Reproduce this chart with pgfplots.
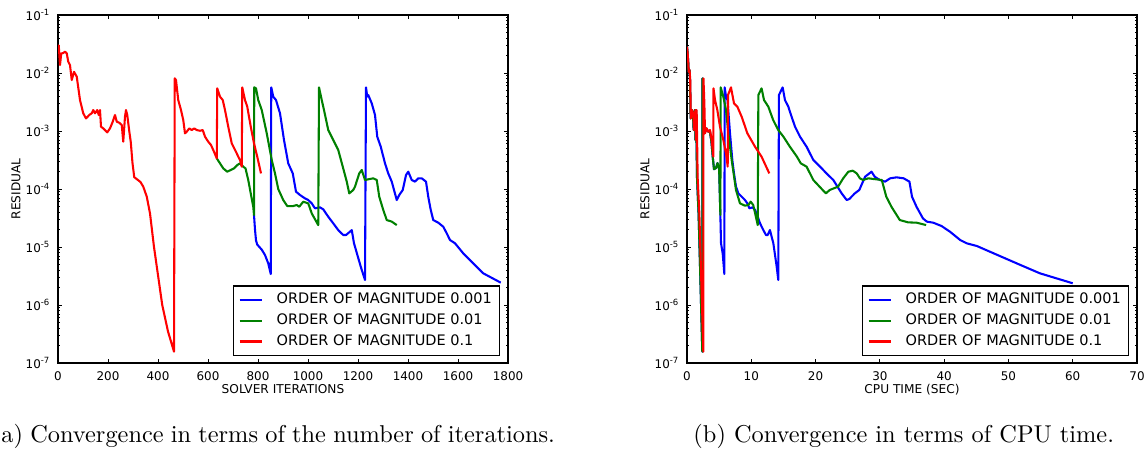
\documentclass[border=0pt]{standalone}
\usepackage{fontspec}
\setsansfont{DejaVu Sans}
\usepackage{pgfplots}
\pgfplotsset{compat=1.18}
\definecolor{mplblue}{rgb}{0,0,1}
\definecolor{mplgreen}{rgb}{0,0.5,0}
\definecolor{mplred}{rgb}{1,0,0}
\newcommand{\tenexp}[1]{10\raisebox{0.42em}{\fontsize{3.5}{4}\selectfont #1}}
\def\uu{0.4107pt}
\pgfplotsset{
  mplstyle/.style={
    scale only axis, width=184.82pt, height=142.92pt,
    ymin=1e-7, ymax=1e-1,
    ytick={1e-7,1e-6,1e-5,1e-4,1e-3,1e-2,1e-1},
    yticklabels={\tenexp{-7},\tenexp{-6},\tenexp{-5},\tenexp{-4},\tenexp{-3},\tenexp{-2},\tenexp{-1}},
    minor ytick={2e-7,3e-7,4e-7,5e-7,6e-7,7e-7,8e-7,9e-7,
                 2e-6,3e-6,4e-6,5e-6,6e-6,7e-6,8e-6,9e-6,
                 2e-5,3e-5,4e-5,5e-5,6e-5,7e-5,8e-5,9e-5,
                 2e-4,3e-4,4e-4,5e-4,6e-4,7e-4,8e-4,9e-4,
                 2e-3,3e-3,4e-3,5e-3,6e-3,7e-3,8e-3,9e-3,
                 2e-2,3e-2,4e-2,5e-2,6e-2,7e-2,8e-2,9e-2},
    tick label style={font=\sffamily\fontsize{4.9}{5.5}\selectfont},
    major tick length=1.6pt, minor tick length=0.85pt,
    every tick/.style={black, line width=0.4pt},
    axis line style={black, line width=0.45pt},
    legend cell align=left,
    legend style={at={(axis description cs:0.982,0.02)}, anchor=south east,
      draw=black, line width=0.45pt, font=\sffamily\fontsize{5.95}{7}\selectfont,
      inner xsep=2.1pt, inner ysep=1.8pt, row sep=0.6pt, column sep=4.8pt,
      nodes={inner sep=1pt}},
    legend image code/.code={\draw[#1, line width=0.85pt] (0pt,0pt) -- (9pt,0pt);},
    every axis plot/.append style={line width=0.85pt, line join=round, mark=none},
    every axis y label/.style={at={(axis description cs:-0.0933,0.5)}, rotate=90, anchor=center,
      font=\sffamily\fontsize{5}{6}\selectfont},
    every axis x label/.style={at={(axis description cs:0.5,-0.076)}, anchor=center,
      font=\sffamily\fontsize{5}{6}\selectfont},
  }
}
\begin{document}
\begin{tikzpicture}
\useasboundingbox (0,0) rectangle (1146*\uu,-450*\uu);
\clip (0,0) rectangle (1146*\uu,-450*\uu);

\begin{axis}[ymode=log, mplstyle, at={(58*\uu,-363*\uu)}, anchor=south west,
  xmin=0, xmax=1800, xtick={0,200,400,600,800,1000,1200,1400,1600,1800},
  xticklabels={0,200,400,600,800,1000,1200,1400,1600,1800},
  xlabel={SOLVER ITERATIONS}, ylabel={RESIDUAL}]
\addplot[mplblue] coordinates {
(784,3.56e-5) (788,2.0e-5) (792,1.3e-5) (797,1.1e-5) (815,9.0e-6) (828,7.28e-6) (841,5.22e-6) (851,3.42e-6)
(853,5.66e-3) (861,3.91e-3) (872,3.42e-3) (888,2.02e-3) (904,7.0e-4) (921,2.77e-4) (939,1.86e-4) (952,9.0e-5)
(968,7.89e-5) (988,6.9e-5) (1001,6.46e-5) (1015,5.66e-5) (1028,4.65e-5) (1048,4.83e-5) (1061,4.46e-5) (1081,3.33e-5)
(1101,2.56e-5) (1121,1.96e-5) (1141,1.61e-5) (1152,1.61e-5) (1168,1.84e-5) (1175,1.96e-5) (1184,1.16e-5) (1211,4.58e-6)
(1228,2.70e-6) (1232,5.66e-3) (1237,3.91e-3) (1241,4.18e-3) (1255,3.0e-3) (1268,1.89e-3) (1277,7.98e-4) (1291,5.37e-4)
(1308,2.77e-4) (1321,1.86e-4) (1335,1.34e-4) (1355,6.46e-5) (1365,7.89e-5) (1379,9.62e-5) (1392,1.74e-4) (1401,1.99e-4)
(1415,1.43e-4) (1428,1.34e-4) (1441,1.53e-4) (1455,1.53e-4) (1472,1.34e-4) (1481,7.38e-5) (1491,4.35e-5) (1501,2.92e-5)
(1521,2.63e-5) (1541,2.24e-5) (1555,1.72e-5) (1568,1.32e-5) (1588,1.16e-5) (1621,7.78e-6) (1661,5.22e-6) (1701,3.52e-6)
(1771,2.43e-6)};
\addlegendentry{ORDER OF MAGNITUDE 0.001}
\addplot[mplgreen] coordinates {
(635,3.38e-4) (648,2.77e-4) (661,2.27e-4) (677,1.99e-4) (691,2.13e-4) (704,2.27e-4) (717,2.59e-4) (728,2.77e-4)
(741,2.43e-4) (750,2.27e-4) (761,1.43e-4) (771,8.4e-5) (781,4.95e-5) (784,3.56e-5) (785,5.66e-3) (792,5.45e-3)
(801,3.42e-3) (815,2.30e-3) (835,9.12e-4) (855,3.16e-4) (868,1.86e-4) (881,1.0e-4) (901,6.46e-5) (917,5.09e-5)
(941,5.09e-5) (955,5.3e-5) (965,4.95e-5) (981,6.05e-5) (1001,5.66e-5) (1015,3.80e-5) (1041,2.39e-5) (1044,5.66e-3)
(1055,3.42e-3) (1064,2.3e-3) (1081,1.04e-3) (1101,7.0e-4) (1121,4.7e-4) (1139,2.43e-4) (1155,1.34e-4) (1165,8.41e-5)
(1181,9.62e-5) (1188,1.10e-4) (1205,1.86e-4) (1215,2.13e-4) (1228,1.43e-4) (1241,1.47e-4) (1261,1.53e-4) (1275,1.43e-4)
(1285,7.38e-5) (1301,4.35e-5) (1315,2.92e-5) (1335,2.74e-5) (1355,2.39e-5)};
\addlegendentry{ORDER OF MAGNITUDE 0.01}
\addplot[mplred] coordinates {
(0,2.5e-2) (3,3.0e-2) (8,1.37e-2) (13,2.18e-2) (20,2.2e-2) (28,2.33e-2) (35,2.18e-2) (41,1.57e-2) (48,1.37e-2)
(55,7.57e-3) (64,1.05e-2) (75,8.65e-3) (88,3.42e-3) (101,2.02e-3) (112,1.65e-3) (125,1.89e-3) (135,2.02e-3)
(141,2.3e-3) (148,2.02e-3) (157,2.3e-3) (163,1.89e-3) (168,2.3e-3) (172,1.19e-3) (181,1.11e-3) (197,9.48e-4)
(208,1.11e-3) (219,1.45e-3) (228,1.89e-3) (235,1.45e-3) (245,1.39e-3) (255,1.27e-3) (261,6.55e-4) (268,1.77e-3)
(272,2.3e-3) (277,1.89e-3) (285,1.0e-3) (291,6.5e-4) (298,2.8e-4) (305,1.6e-4) (318,1.45e-4) (330,1.32e-4)
(341,1.1e-4) (355,7.4e-5) (368,3.8e-5) (384,1.0e-5) (417,1.0e-6) (440,3.5e-7) (464,1.57e-7) (467,8.09e-3)
(472,7.57e-3) (481,3.42e-3) (492,2.3e-3) (501,1.55e-3) (508,9.12e-4) (515,9.75e-4) (525,1.11e-3) (535,1.04e-3)
(545,1.11e-3) (555,1.04e-3) (568,1.01e-3) (579,1.04e-3) (588,7.98e-4) (601,6.55e-4) (612,5.74e-4) (624,4.4e-4)
(635,3.38e-4) (637,5.45e-3) (648,3.91e-3) (659,3.42e-3) (668,2.3e-3) (681,1.19e-3) (695,6.12e-4) (715,4.12e-4)
(721,3.61e-4) (728,3.16e-4) (735,2.43e-4) (737,5.66e-3) (748,3.42e-3) (757,2.63e-3) (771,1.19e-3) (784,6.12e-4)
(797,3.61e-4) (812,1.86e-4)};
\addlegendentry{ORDER OF MAGNITUDE 0.1}
\end{axis}

\begin{axis}[ymode=log, mplstyle, at={(687*\uu,-363*\uu)}, anchor=south west,
  xmin=0, xmax=70, xtick={0,10,20,30,40,50,60,70},
  xticklabels={0,10,20,30,40,50,60,70},
  xlabel={CPU TIME (SEC)}, ylabel={RESIDUAL}]
\addplot[mplblue] coordinates {
(0,2.84e-2) (0.1,2.2e-2) (0.19,1.5e-2) (0.25,1.05e-2) (0.38,1.13e-2) (0.47,7.57e-3) (0.56,1.65e-3) (0.75,2.3e-3)
(0.94,1.89e-3) (1.03,1.04e-3) (1.13,1.5e-3) (1.22,2.3e-3) (1.32,7.0e-4) (1.41,2.3e-3) (1.56,1.53e-4) (1.8,3.8e-5)
(2.07,3.1e-6) (2.38,1.57e-7) (2.40,8.09e-3) (2.55,3.0e-3) (2.7,9.12e-4) (3.0,1.11e-3) (3.3,9.75e-4) (3.55,1.0e-3)
(3.8,6.5e-4) (4.0,3.6e-4) (4.2,2.2e-4) (4.5,2.3e-4) (4.75,2.8e-4) (5.0,2.2e-4) (5.19,3.56e-5)
(5.29,1.16e-5) (5.55,7.78e-6) (5.81,3.42e-6) (5.86,5.66e-3) (6.07,3.91e-3) (6.3,3.42e-3) (6.69,9.12e-4) (7.05,3.16e-4)
(7.31,1.86e-4) (7.62,1.10e-4) (7.99,8.41e-5) (8.5,7.38e-5) (9.02,6.46e-5) (9.39,5.66e-5) (9.7,4.65e-5) (10.2,4.83e-5)
(10.6,4.35e-5) (11.0,3.33e-5) (11.36,2.56e-5) (11.87,1.96e-5) (12.29,1.61e-5) (12.55,1.61e-5) (12.9,1.96e-5) (13.43,1.16e-5)
(13.95,4.58e-6) (14.2,2.70e-6) (14.3,4.18e-3) (14.88,5.66e-3) (15.24,3.42e-3) (15.76,2.63e-3) (16.18,1.89e-3) (16.8,1.19e-3)
(17.58,7.98e-4) (18.6,5.37e-4) (19.65,3.16e-4) (20.7,2.43e-4) (21.7,1.86e-4) (22.76,1.43e-4) (24.06,8.41e-5) (24.84,6.46e-5)
(25.25,6.73e-5) (26.1,8.41e-5) (26.8,9.62e-5) (27.7,1.63e-4) (28.7,1.99e-4) (29.2,1.63e-4) (30.0,1.43e-4) (30.8,1.34e-4)
(31.6,1.53e-4) (32.6,1.59e-4) (33.7,1.53e-4) (34.6,1.34e-4) (35.0,7.38e-5) (35.7,4.95e-5) (36.7,3.12e-5) (37.3,2.74e-5)
(38.3,2.63e-5) (39.6,2.30e-5) (40.9,1.84e-5) (42.5,1.32e-5) (43.5,1.16e-5) (45.1,1.04e-5) (47.1,8.32e-6) (51.3,5.22e-6)
(54.9,3.52e-6) (60.0,2.37e-6)};
\addlegendentry{ORDER OF MAGNITUDE 0.001}
\addplot[mplgreen] coordinates {
(0,2.84e-2) (0.1,2.2e-2) (0.19,1.5e-2) (0.25,1.05e-2) (0.38,1.13e-2) (0.47,7.57e-3) (0.56,1.65e-3) (0.75,2.3e-3)
(0.94,1.89e-3) (1.03,1.04e-3) (1.13,1.5e-3) (1.22,2.3e-3) (1.32,7.0e-4) (1.41,2.3e-3) (1.56,1.53e-4) (1.8,3.8e-5)
(2.07,3.1e-6) (2.38,1.57e-7) (2.40,8.09e-3) (2.55,3.0e-3) (2.7,9.12e-4) (3.0,1.11e-3) (3.3,9.75e-4) (3.55,1.0e-3)
(3.8,6.5e-4) (4.0,3.6e-4) (4.2,2.2e-4) (4.5,2.3e-4) (4.75,2.8e-4) (5.0,2.2e-4) (5.19,3.56e-5) (5.24,5.66e-3)
(5.65,3.91e-3) (6.07,2.3e-3) (6.43,9.12e-4) (6.95,3.16e-4) (7.62,9.62e-5) (8.24,5.66e-5) (9.02,5.16e-5) (9.54,5.3e-5)
(9.9,6.05e-5) (10.3,5.3e-5) (10.6,3.8e-5) (11.0,2.39e-5) (11.1,4.18e-3) (11.6,5.45e-3) (11.98,3.42e-3) (12.65,2.63e-3)
(13.4,1.55e-3) (14.2,1.04e-3) (15.0,7.98e-4) (16.0,5.37e-4) (17.1,3.61e-4) (17.7,2.77e-4) (18.6,2.43e-4) (19.65,1.43e-4)
(21.6,8.41e-5) (22.2,9.62e-5) (23.5,1.10e-4) (24.3,1.53e-4) (25.1,1.99e-4) (25.8,2.07e-4) (26.4,1.86e-4) (26.9,1.53e-4)
(27.4,1.43e-4) (28.2,1.53e-4) (29.0,1.49e-4) (30.3,1.43e-4) (31.0,7.38e-5) (31.8,4.95e-5) (33.1,2.92e-5) (34.4,2.66e-5)
(35.7,2.63e-5) (37.2,2.39e-5)};
\addlegendentry{ORDER OF MAGNITUDE 0.01}
\addplot[mplred] coordinates {
(0,2.84e-2) (0.1,2.2e-2) (0.2,1.5e-2) (0.26,1.05e-2) (0.4,1.13e-2) (0.5,7.57e-3) (0.6,1.65e-3) (0.8,2.3e-3)
(1.0,1.89e-3) (1.1,1.04e-3) (1.2,1.5e-3) (1.3,2.3e-3) (1.4,7.0e-4) (1.5,2.3e-3) (1.66,1.53e-4) (1.92,3.8e-5)
(2.2,3.1e-6) (2.54,1.57e-7) (2.56,8.09e-3) (2.7,3.0e-3) (2.8,9.12e-4) (3.06,1.11e-3) (3.3,9.75e-4) (3.58,1.04e-3)
(3.84,7.0e-4) (4.1,3.61e-4) (4.12,5.45e-3) (4.36,3.42e-3) (4.72,2.3e-3) (5.13,1.19e-3) (5.65,7.0e-4) (6.07,4.12e-4)
(6.33,2.43e-4) (6.38,4.18e-3) (6.84,5.66e-3) (7.31,3.0e-3) (7.83,2.63e-3) (8.5,1.77e-3) (9.39,9.12e-4) (10.58,5.37e-4)
(11.6,3.61e-4) (12.8,1.86e-4)};
\addlegendentry{ORDER OF MAGNITUDE 0.1}
\end{axis}

\node[anchor=base west, inner sep=0pt, font=\fontsize{10}{12}\selectfont] at (1*\uu-3.89pt,-442*\uu) {\spaceskip=2.97pt plus 1pt minus 0.5pt (a) Convergence in terms of the number of iterations.};
\node[anchor=base west, inner sep=0pt, font=\fontsize{10}{12}\selectfont] at (693*\uu,-442*\uu) {(b) Convergence in terms of CPU time.};
\end{tikzpicture}
\end{document}
